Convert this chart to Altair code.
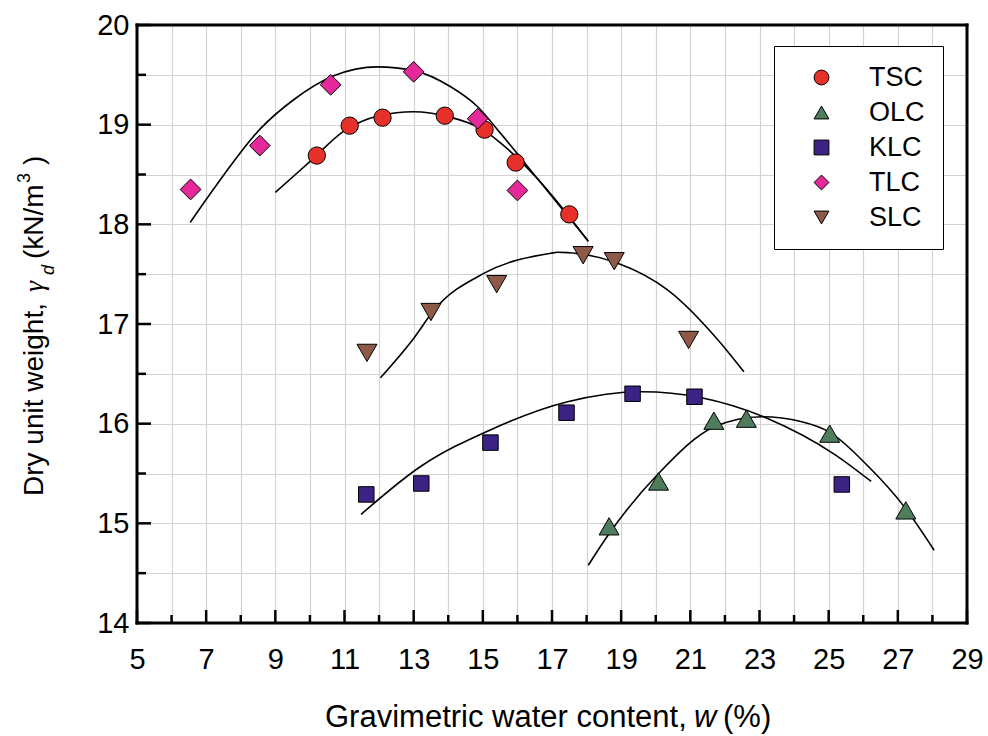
import altair as alt
import pandas as pd

# ---------------- data ----------------
SERIES = ["TSC", "OLC", "KLC", "TLC", "SLC"]
COLORS = ["#E8302A", "#4F7D5C", "#3A2385", "#E5299A", "#8E5A47"]
SHAPES = ["circle", "triangle-up", "square", "diamond", "triangle-down"]
SIZES = [300, 400, 240, 430, 400]

tsc_w = [10.2, 11.15, 12.1, 13.9, 15.05, 15.95, 17.5]
tsc_g = [18.69, 18.99, 19.07, 19.09, 18.95, 18.62, 18.10]

olc_w = [18.65, 20.08, 21.68, 22.62, 25.03, 27.23]
olc_g = [14.97, 15.42, 16.03, 16.05, 15.90, 15.13]

klc_w = [11.63, 13.22, 15.22, 17.42, 19.33, 21.12, 25.38]
klc_g = [15.29, 15.40, 15.81, 16.11, 16.30, 16.27, 15.39]

tlc_w = [6.55, 8.55, 10.6, 13.0, 14.85, 16.0]
tlc_g = [18.35, 18.79, 19.40, 19.53, 19.06, 18.34]

slc_w = [11.65, 13.5, 15.4, 17.9, 18.8, 20.95]
slc_g = [16.71, 17.12, 17.40, 17.69, 17.63, 16.84]

# fitted curves
tsc_fit_w = [9.0, 10.0, 11.0, 12.0, 13.0, 14.0, 15.0, 15.5, 16.6, 18.05]
tsc_fit_g = [18.32, 18.63, 18.94, 19.09, 19.13, 19.08, 18.95, 18.82, 18.45, 17.83]

tlc_fit_w = [6.54, 7.31, 8.57, 9.53, 10.69, 11.95, 13.03, 14.07, 14.85, 15.52, 16.6, 18.05]
tlc_fit_g = [18.02, 18.40, 18.96, 19.25, 19.49, 19.58, 19.54, 19.38, 19.18, 18.91, 18.45, 17.83]

slc_fit_w = [12.04, 13.01, 13.59, 15.04, 16.97, 17.16, 18.90, 20.35, 21.80, 22.55]
slc_fit_g = [16.46, 16.86, 17.14, 17.51, 17.71, 17.72, 17.61, 17.34, 16.84, 16.52]

klc_fit_w = [11.48, 13.20, 15.23, 17.45, 19.58, 21.32, 23.25, 25.18, 26.23]
klc_fit_g = [15.09, 15.57, 15.94, 16.22, 16.32, 16.26, 16.05, 15.69, 15.42]

olc_fit_w = [18.05, 18.66, 20.08, 21.70, 23.06, 24.22, 25.0, 26.15, 27.2, 28.05]
olc_fit_g = [14.58, 14.90, 15.50, 15.97, 16.07, 16.02, 15.92, 15.57, 15.16, 14.73]

x_grid_values = list(range(5, 30))
y_grid_values = [14 + 0.5 * i for i in range(13)]
x_major_ticks = list(range(5, 30, 2))
x_minor_ticks = list(range(6, 29, 2))
y_major_ticks = list(range(14, 21))
y_minor_ticks = [14.5, 15.5, 16.5, 17.5, 18.5, 19.5]

# ---------------- tables ----------------
pts = pd.DataFrame(
    [(s, w, g) for s, ws, gs in [
        ("TSC", tsc_w, tsc_g), ("OLC", olc_w, olc_g), ("KLC", klc_w, klc_g),
        ("TLC", tlc_w, tlc_g), ("SLC", slc_w, slc_g)]
     for w, g in zip(ws, gs)],
    columns=["series", "w", "g"])

fits = pd.DataFrame(
    [(s, i, w, g) for s, ws, gs in [
        ("TSC", tsc_fit_w, tsc_fit_g), ("OLC", olc_fit_w, olc_fit_g),
        ("KLC", klc_fit_w, klc_fit_g), ("TLC", tlc_fit_w, tlc_fit_g),
        ("SLC", slc_fit_w, slc_fit_g)]
     for i, (w, g) in enumerate(zip(ws, gs))],
    columns=["series", "i", "w", "g"])

W, H = 830, 598
FONT = "Liberation Sans"

xs = alt.Scale(domain=[5, 29], nice=False, zero=False)
ys = alt.Scale(domain=[14, 20], nice=False, zero=False)

xaxis = alt.Axis(values=x_grid_values,
                 labelExpr="datum.value % 2 == 1 ? format(datum.value, 'd') : ''",
                 grid=True, ticks=False, tickSize=0, domain=False, title=None,
                 labelFontSize=29, labelPadding=22, labelFont=FONT, labelColor="black",
                 gridColor="#d3d3d3", gridWidth=1.2, labelFlush=False, labelOverlap=False)
yaxis = alt.Axis(values=y_grid_values,
                 labelExpr="datum.value % 1 == 0 ? format(datum.value, 'd') : ''",
                 grid=True, ticks=False, tickSize=0, domain=False, title=None,
                 labelFontSize=29, labelPadding=8, labelFont=FONT, labelColor="black",
                 gridColor="#d3d3d3", gridWidth=1.2, labelFlush=False, labelOverlap=False)

X = alt.X("w:Q", scale=xs, axis=xaxis)
Y = alt.Y("g:Q", scale=ys, axis=yaxis)

curves = alt.Chart(fits).mark_line(color="black", strokeWidth=1.6, interpolate="monotone").encode(
    x=X, y=Y, detail="series:N", order="i:Q")

one = pd.DataFrame({"a": [0]})

def xticks(vals, length):
    return alt.Chart(pd.DataFrame({"w": vals})).mark_rule(color="black", strokeWidth=2.5).encode(
        x=X, y=alt.value(H), y2=alt.value(H - length))

def yticks(vals, length):
    return alt.Chart(pd.DataFrame({"g": vals})).mark_rule(color="black", strokeWidth=2.5).encode(
        y=Y, x=alt.value(0), x2=alt.value(length))

legend = alt.Legend(title=None, orient="none", legendX=637, legendY=21)

def point_layer(name, size):
    return alt.Chart(pts).transform_filter(alt.datum.series == name).mark_point(
        filled=True, size=size, strokeWidth=1, opacity=1).encode(
        x=X, y=Y,
        fill=alt.Fill("series:N", scale=alt.Scale(domain=SERIES, range=COLORS), legend=legend),
        shape=alt.Shape("series:N", scale=alt.Scale(domain=SERIES, range=SHAPES), legend=legend),
        stroke=alt.Stroke("series:N", scale=alt.Scale(domain=SERIES, range=["black"] * 5),
                          legend=legend),
    )

points = [point_layer(s, sz) for s, sz in zip(SERIES, SIZES)]

def frame(**enc):
    return alt.Chart(one).mark_rule(color="black", strokeWidth=3, strokeCap="square").encode(**enc)

frames = [
    frame(x=alt.value(0), x2=alt.value(W), y=alt.value(0)),
    frame(x=alt.value(0), x2=alt.value(W), y=alt.value(H)),
    frame(x=alt.value(0), y=alt.value(0), y2=alt.value(H)),
    frame(x=alt.value(W), y=alt.value(0), y2=alt.value(H)),
]

def txt(s, x, y, size, italic=False, angle=0, font=FONT):
    kw = dict(align="left", baseline="alphabetic", font=font, fontSize=size, color="black")
    if italic:
        kw["fontStyle"] = "italic"
    if angle:
        kw["angle"] = angle
    return alt.Chart(one).mark_text(**kw).encode(
        text=alt.value(s), x=alt.value(x), y=alt.value(y))

# x-axis title: Gravimetric water content, w (%)
xt = [
    txt("Gravimetric water content,", 188, 702, 31),
    txt("w", 557, 702, 31, italic=True),
    txt("(%)", 586, 702, 31),
]
# y-axis title: Dry unit weight, γd (kN/m³)
yt = [
    txt("Dry unit weight,", -94, 471, 28, angle=270),
    txt("γ", -94, 267, 28, italic=True, angle=270, font="Liberation Serif"),
    txt("d", -83, 250, 18, italic=True, angle=270),
    txt("(kN/m", -94, 234, 28, angle=270),
    txt("3", -107, 158, 18, angle=270),
    txt(")", -94, 140, 28, angle=270),
]

chart = alt.layer(
    curves,
    xticks(x_major_ticks, 13), xticks(x_minor_ticks, 8),
    yticks(y_major_ticks, 14), yticks(y_minor_ticks, 9),
    *points, *frames, *xt, *yt,
).properties(
    width=W, height=H,
    autosize=alt.AutoSizeParams(type="none"),
    padding={"left": 137, "top": 25, "right": 21, "bottom": 113},
    background="white",
).configure_view(stroke=None).configure_legend(
    padding=18, symbolOffset=16, labelOffset=34, labelFontSize=27, labelFont=FONT,
    labelColor="black", strokeColor="black", fillColor="white", symbolSize=220,
    symbolStrokeWidth=1, rowPadding=7,
)

chart.save("out.html", embed_options={"renderer": "svg", "actions": False})
